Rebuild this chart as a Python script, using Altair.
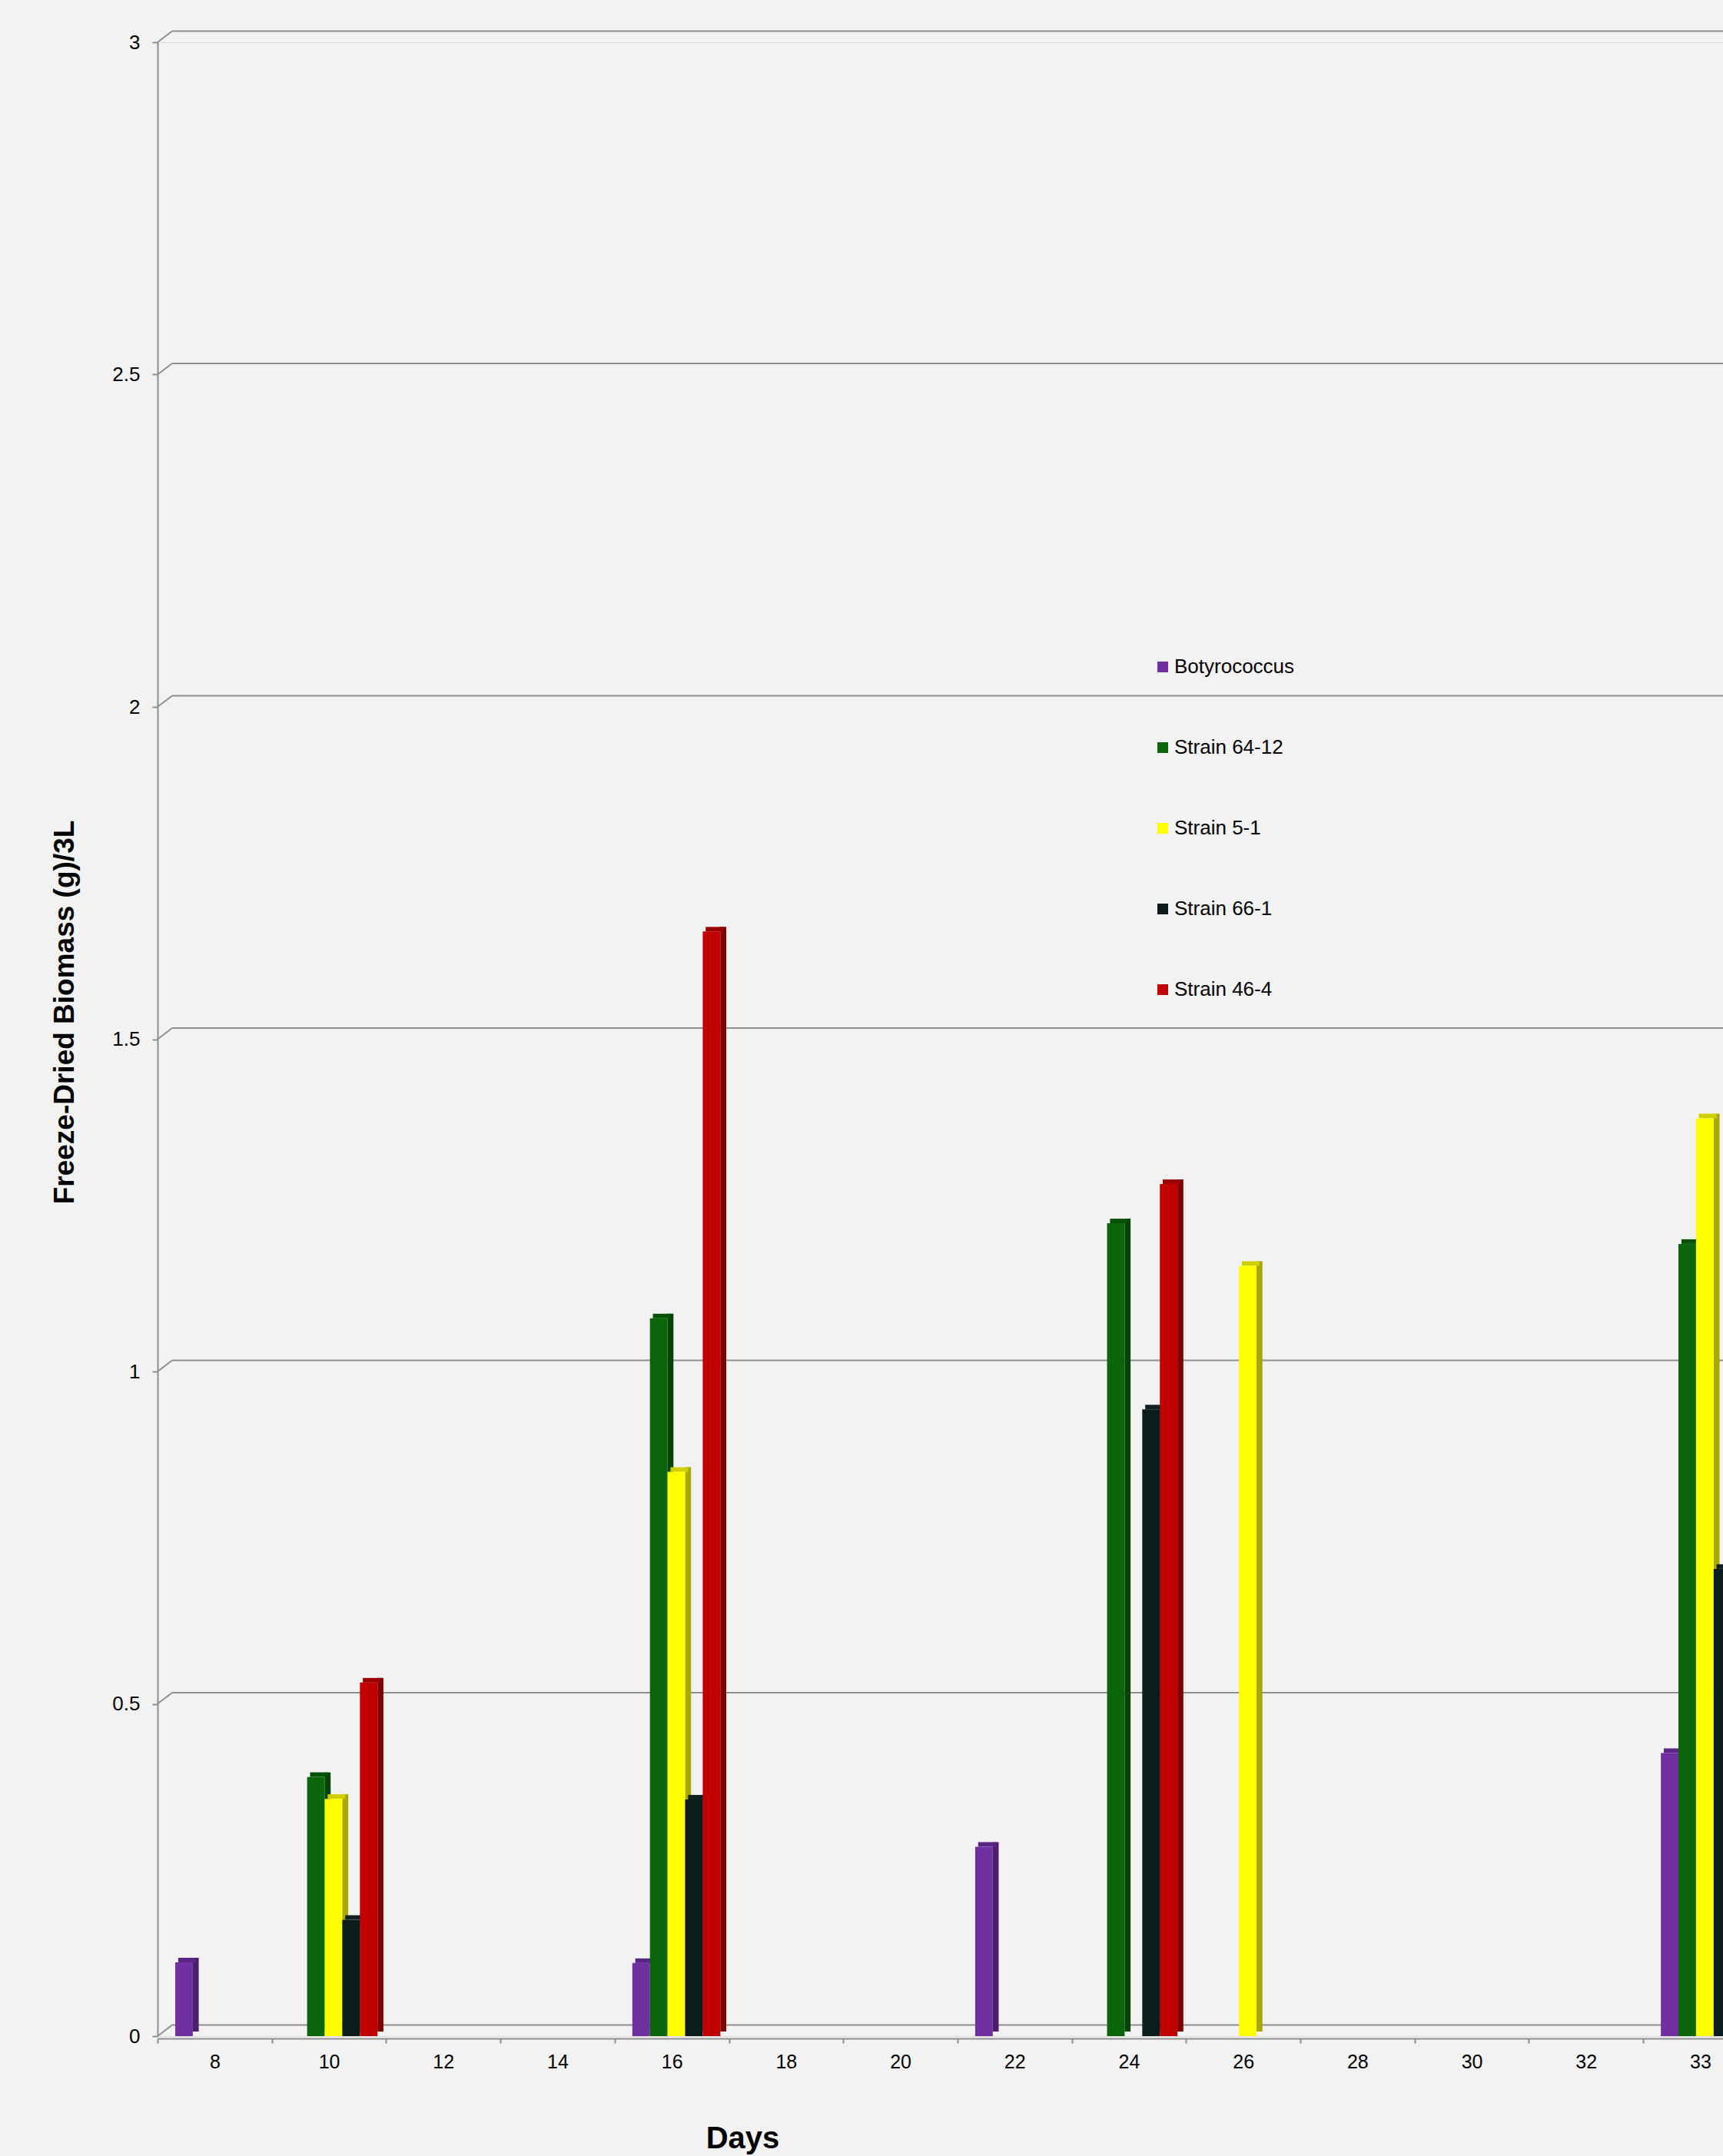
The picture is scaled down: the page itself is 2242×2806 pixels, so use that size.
import altair as alt
import pandas as pd

# ---- data ----
days = ["8", "10", "12", "14", "16", "18", "20", "22", "24", "26", "28", "30", "32", "33"]
series = ["Botyrococcus", "Strain 64-12", "Strain 5-1", "Strain 66-1", "Strain 46-4"]
botyrococcus = [0.111, None, None, None, 0.110, None, None, 0.285, None, None, None, None, None, 0.426]
strain_64_12 = [None, 0.390, None, None, 1.080, None, None, None, 1.223, None, None, None, None, 1.192]
strain_5_1 = [None, 0.357, None, None, 0.849, None, None, None, None, 1.159, None, None, None, 1.381]
strain_66_1 = [None, 0.175, None, None, 0.356, None, None, None, 0.943, None, None, None, None, 0.703]
strain_46_4 = [None, 0.532, None, None, 1.662, None, None, None, 1.282, None, None, None, None, None]
y_ticks = [0, 0.5, 1, 1.5, 2, 2.5, 3]

# ---- styles ----
front_colors = ["#7030A0", "#0B650B", "#FFFF00", "#0C1B1B", "#C00000"]
side_colors = ["#4B1F6E", "#064406", "#A8A800", "#061010", "#7F0000"]
top_colors = ["#5A2686", "#085208", "#CFCF00", "#102020", "#9A0000"]
GRAY = "#8E8E8E"
FONT = "Liberation Sans"

values_by_series = [botyrococcus, strain_64_12, strain_5_1, strain_66_1, strain_46_4]
rows = []
for s, vals in zip(series, values_by_series):
    for d, v in zip(days, vals):
        if v is not None:
            rows.append({"Day": d, "Series": s, "Value": v})
df = pd.DataFrame(rows)
grid_df = pd.DataFrame({"Value": y_ticks})

W = 2037
H = 2595
X_RANGE = 2081.8

x_enc = alt.X(
    "Day:N",
    scale=alt.Scale(domain=days, paddingInner=0, paddingOuter=0, range=[0, X_RANGE], round=False),
    axis=alt.Axis(
        tickBand="extent", labelAngle=0, grid=False,
        domainColor=GRAY, domainWidth=2, tickColor=GRAY, tickWidth=2, tickSize=6,
        labelFont=FONT, labelFontSize=25, labelColor="black", labelPadding=12,
        offset=3,
        title="Days", titleFont=FONT, titleFontSize=40, titleFontWeight="bold", titleColor="black",
        titleX=761, titleY=142, titleBaseline="alphabetic", titleAlign="center",
    ),
)

y_axis = alt.Axis(
    values=y_ticks, format="~g", grid=False,
    domainColor=GRAY, domainWidth=2, tickColor=GRAY, tickWidth=2, tickSize=7,
    labelFont=FONT, labelFontSize=26, labelColor="black", labelPadding=16,
    title="Freeze-Dried Biomass (g)/3L", titleFont=FONT, titleFontSize=37,
    titleFontWeight="bold", titleColor="black", titleAngle=270,
    titleX=-110, titleY=1262, titleBaseline="alphabetic", titleAlign="center",
)
y_scale = alt.Scale(domain=[0, 3], nice=False, zero=True)

grid = alt.Chart(grid_df).mark_rule(color=GRAY, strokeWidth=2, yOffset=-14.5).encode(
    y=alt.Y("Value:Q", scale=y_scale, axis=y_axis),
    x=alt.value(19),
    x2=alt.value(X_RANGE),
)
diag = alt.Chart(grid_df).mark_rule(color=GRAY, strokeWidth=2, y2Offset=-14.5).encode(
    y=alt.Y("Value:Q", scale=y_scale, axis=y_axis),
    y2=alt.Y2("Value:Q"),
    x=alt.value(0),
    x2=alt.value(19),
)

side = alt.Chart(df).mark_bar(yOffset=-6, y2Offset=-6, width=7.7).encode(
    x=x_enc,
    xOffset=alt.XOffset("Series:N", scale=alt.Scale(domain=series, paddingInner=0.507,
                                                     paddingOuter=1, align=0.963, round=False)),
    y=alt.Y("Value:Q", scale=y_scale, axis=y_axis),
    color=alt.Color("Series:N", scale=alt.Scale(domain=series, range=side_colors), legend=None),
)

top = alt.Chart(df).mark_bar(yOffset=-6).encode(
    x=x_enc,
    xOffset=alt.XOffset("Series:N", scale=alt.Scale(domain=series, paddingInner=0,
                                                     paddingOuter=0.747, align=0.785, round=False)),
    y=alt.Y("Value:Q", scale=y_scale, axis=y_axis),
    y2=alt.Y2("Value:Q"),
    color=alt.Color("Series:N", scale=alt.Scale(domain=series, range=top_colors), legend=None),
)

front = alt.Chart(df).mark_bar().encode(
    x=x_enc,
    xOffset=alt.XOffset("Series:N", scale=alt.Scale(domain=series, paddingInner=0,
                                                     paddingOuter=0.747, align=0.673, round=False)),
    y=alt.Y("Value:Q", scale=y_scale, axis=y_axis),
    color=alt.Color(
        "Series:N",
        scale=alt.Scale(domain=series, range=front_colors),
        legend=alt.Legend(
            orient="none", legendX=1295, legendY=800, title=None,
            symbolType="square", symbolSize=196, symbolStrokeWidth=0,
            labelFont=FONT, labelFontSize=26, labelColor="black", labelOffset=2,
            rowPadding=79, padding=0,
        ),
    ),
)

chart = (
    alt.layer(grid, diag, side, top, front)
    .resolve_scale(xOffset="independent", color="independent")
    .properties(
        width=W, height=H,
        autosize=alt.AutoSizeParams(type="none"),
        padding={"left": 205, "top": 55, "right": 0, "bottom": 156},
        background="#F2F2F2",
    )
    .configure_view(strokeWidth=0, strokeOpacity=0)
    .configure(font=FONT)
)

chart.save("out.html", embed_options={"renderer": "svg", "actions": False})
